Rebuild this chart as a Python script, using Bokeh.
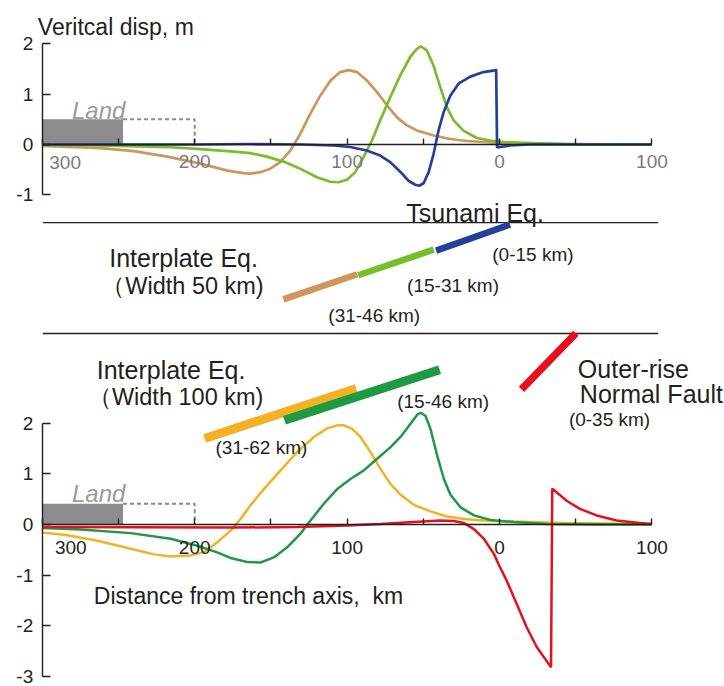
from bokeh.plotting import figure
from bokeh.models import Range1d, LinearAxis, FixedTicker, Label
from bokeh.embed import file_html
from bokeh.resources import INLINE

# ---------------- data (distance km: negative = landward, positive = seaward) ----------------
x_ticks = [-300, -250, -200, -150, -100, -50, 0, 50, 100]
x_tick_labels = {t: ("" if (t % 100 != 0 or t == -300) else str(abs(t))) for t in x_ticks}
top_y_ticks = [-1, 0, 1, 2]
bot_y_ticks = [-3, -2, -1, 0, 1, 2]
y_tick_labels = {t: str(t) for t in bot_y_ticks}

# Top panel: interplate Eq. width 50 km (vertical displacement, m)
tsunami_x = [-300, -200, -163.6, -130.8, -108.9, -98, -87.1, -78.3, -71.7, -65.2, -59.7, -55.3, -52.7,
             -49.8, -46.5, -43.3, -40, -36.7, -32.3, -26.9, -19.2, -10.5, -2.2, -1.6, 0.3, 7, 20, 100]
tsunami_y = [0, 0, 0.01, 0, -0.02, -0.05, -0.12, -0.22, -0.35, -0.54, -0.72, -0.80, -0.82,
             -0.77, -0.55, -0.19, 0.28, 0.64, 0.97, 1.21, 1.35, 1.44, 1.48, -0.05, -0.05, -0.02, 0, 0]

mid50_x = [-300, -261.6, -218, -196, -174.3, -163.6, -152.7, -141.7, -130.8, -119.8, -111.1, -105.6,
           -100.1, -94.7, -89.2, -83.7, -78.3, -71.7, -65.2, -58.6, -54.2, -51.6, -47.7, -43.3, -38.9,
           -34.5, -30.1, -23.5, -14.8, -6.1, 2.7, 20, 50, 100]
mid50_y = [-0.01, -0.02, -0.05, -0.09, -0.14, -0.17, -0.24, -0.34, -0.48, -0.65, -0.74, -0.75,
           -0.70, -0.55, -0.25, 0.08, 0.48, 0.94, 1.37, 1.74, 1.90, 1.95, 1.87, 1.57, 1.14,
           0.74, 0.48, 0.27, 0.13, 0.08, 0.05, 0.03, 0.01, 0]

deep50_x = [-300, -261.6, -239.8, -218, -196.1, -178.6, -168, -163.6, -157, -150.4, -143.9, -137.3,
            -130.7, -124.2, -117.6, -111, -104.5, -99, -93.5, -86.9, -80.4, -73.8, -67.3, -60.7,
            -54.2, -43.3, -32.3, -21.4, -10.5, 0.5, 30, 60, 100]
deep50_y = [-0.03, -0.07, -0.13, -0.24, -0.38, -0.52, -0.57, -0.58, -0.55, -0.48, -0.35, -0.12,
            0.21, 0.61, 0.97, 1.27, 1.44, 1.48, 1.44, 1.27, 1.04, 0.78, 0.54, 0.38,
            0.28, 0.18, 0.11, 0.07, 0.05, 0.03, 0.01, 0, 0]

# Bottom panel: interplate Eq. width 100 km + outer-rise normal fault
deep100_x = [-300, -285.6, -263.8, -242, -226.7, -215.8, -202.7, -194, -185.2, -176.5, -169.9, -163.4,
             -154.6, -143.7, -132.8, -121.8, -113.1, -106.5, -102.1, -96.7, -91.2, -84.6, -78.1,
             -71.5, -65, -56.2, -45.3, -34.3, -23.4, -10.3, 2.8, 20.3, 42.2, 70, 100]
deep100_y = [-0.16, -0.2, -0.32, -0.48, -0.59, -0.63, -0.61, -0.55, -0.35, -0.12, 0.11, 0.38,
             0.70, 1.07, 1.43, 1.73, 1.90, 1.96, 1.96, 1.89, 1.73, 1.43, 1.10,
             0.80, 0.59, 0.39, 0.26, 0.16, 0.11, 0.08, 0.06, 0.05, 0.03, 0.02, 0.01]

shallow100_x = [-300, -274.7, -242, -215.8, -198.3, -185.2, -176.5, -165.6, -156.8, -148.1, -139.3,
                -130.6, -124, -115.3, -106.5, -97.8, -89, -80.3, -71.5, -65, -58.4, -54, -51.8,
                -48.6, -45.3, -40.9, -36.5, -32.2, -25.6, -16.8, -5.9, 9.4, 31.3, 60, 100]
shallow100_y = [-0.07, -0.10, -0.17, -0.28, -0.42, -0.55, -0.66, -0.74, -0.75, -0.65, -0.45,
                -0.18, 0.08, 0.41, 0.70, 0.90, 1.07, 1.30, 1.53, 1.73, 1.99, 2.17, 2.21,
                2.15, 1.89, 1.36, 0.90, 0.59, 0.34, 0.18, 0.09, 0.05, 0.01, 0, 0]

outer_x = [-300, -176.5, -132.8, -100, -78.1, -56.2, -38.7, -30, -23.4, -16.8, -10.3, -3.7, -0.4,
           4.7, 11.3, 17.8, 24.4, 29.8, 33.8, 34.6, 44, 52.7, 63.7, 76.8, 92, 100]
outer_y = [-0.05, -0.06, -0.05, -0.02, 0.01, 0.05, 0.08, 0.07, 0.03, -0.09, -0.28, -0.58, -0.80,
           -1.11, -1.57, -2.03, -2.42, -2.65, -2.82, 0.71, 0.47, 0.31, 0.18, 0.08, 0.03, 0.01]

# Land extent (km) and symbolic heights
land_solid = (-300, -247)
land_dash_end = -200
land_h_top, land_h_bot = 0.5, 0.41

# Fault schematics (distance km, diagram units of each panel)
faults_top = {
    "tsunami": ([-41.6, 6.9], [-2.11, -1.59]),
    "mid":     ([-92.7, -43.2], [-2.60, -2.09]),
    "deep":    ([-141.8, -93.3], [-3.08, -2.58]),
}
faults_bot = {
    "deep":    ([-193.5, -94.0], [1.70, 2.69]),
    "shallow": ([-141.1, -39.3], [2.06, 3.06]),
    "outer":   ([14.4, 50.1], [2.67, 3.78]),
}
separators_x = [-299.6, 104.1]
separators_y = [-1.551, -3.757]

# ---------------- styling ----------------
INK = "#231f20"
C_BLUE, C_LGREEN, C_TAN = "#25409a", "#78bd2a", "#cf955a"
C_YEL, C_DGREEN, C_RED = "#f5b025", "#1e9a43", "#e60f1b"
C_LAND = "#8c8c8c"
FONT = "Liberation Sans"

p = figure(width=724, height=686, output_backend="svg", toolbar_location=None, tools="",
           x_range=Range1d(-327.4, 147.6), y_range=Range1d(-10.775, 2.863),
           x_axis_type=None, y_axis_type=None, min_border=0, outline_line_color=None,
           background_fill_color="white", border_fill_color="white")
p.extra_y_ranges = {"bot": Range1d(-3.201, 10.356)}


def add_axes(rng, yticks, xlab_color, xlab_standoff):
    kw = {} if rng is None else {"y_range_name": rng}
    xa = LinearAxis(fixed_location=0, bounds=(-300, 100), ticker=FixedTicker(ticks=x_ticks),
                    major_label_overrides=x_tick_labels, **kw)
    xa.major_tick_in = 6
    xa.major_tick_out = 0
    xa.minor_tick_line_color = None
    xa.axis_line_color = INK
    xa.axis_line_width = 1.6
    xa.major_tick_line_color = INK
    xa.major_tick_line_width = 1.4
    xa.major_label_text_font = FONT
    xa.major_label_text_font_size = "19px"
    xa.major_label_text_color = xlab_color
    xa.major_label_standoff = xlab_standoff
    p.add_layout(xa, "below")

    ya = LinearAxis(fixed_location=-300, bounds=(min(yticks), max(yticks)),
                    ticker=FixedTicker(ticks=yticks),
                    major_label_overrides={t: y_tick_labels[t] for t in yticks}, **kw)
    ya.major_tick_in = 8
    ya.major_tick_out = 0
    ya.minor_tick_line_color = None
    ya.axis_line_color = INK
    ya.axis_line_width = 1.4
    ya.major_tick_line_color = INK
    ya.major_tick_line_width = 1.4
    ya.major_label_text_font = FONT
    ya.major_label_text_font_size = "19px"
    ya.major_label_text_color = INK
    ya.major_label_standoff = 9
    p.add_layout(ya, "left")


# land boxes
for rng, h in ((None, land_h_top), ("bot", land_h_bot)):
    kw = {} if rng is None else {"y_range_name": rng}
    p.quad(left=[land_solid[0]], right=[land_solid[1]], bottom=[0], top=[h],
           fill_color=C_LAND, line_color=None, **kw)
    p.line([land_solid[1], land_dash_end, land_dash_end], [h, h, 0], line_color=C_LAND,
           line_width=2, line_dash="4 3", **kw)

add_axes(None, top_y_ticks, "#7a7a7a", 10)
add_axes("bot", bot_y_ticks, INK, 16)

# curves top
p.line(deep50_x, deep50_y, line_color=C_TAN, line_width=2.7, line_join="round")
p.line(mid50_x, mid50_y, line_color=C_LGREEN, line_width=2.7, line_join="round")
p.line(tsunami_x, tsunami_y, line_color=C_BLUE, line_width=2.7, line_join="round")

# curves bottom
p.line(deep100_x, deep100_y, line_color=C_YEL, line_width=2.5, y_range_name="bot", line_join="round")
p.line(shallow100_x, shallow100_y, line_color=C_DGREEN, line_width=2.5, y_range_name="bot",
       line_join="round")
p.line(outer_x, outer_y, line_color=C_RED, line_width=2.5, y_range_name="bot")

# separators
for sy in separators_y:
    p.line(separators_x, [sy, sy], line_color=INK, line_width=1.3)

# faults
for key, col in (("deep", C_TAN), ("mid", C_LGREEN), ("tsunami", C_BLUE)):
    fx, fy = faults_top[key]
    p.line(fx, fy, line_color=col, line_width=6.5, line_cap="butt")
for key, col, w in (("deep", C_YEL, 9), ("shallow", C_DGREEN, 9), ("outer", C_RED, 7.5)):
    fx, fy = faults_bot[key]
    p.line(fx, fy, line_color=col, line_width=w, line_cap="butt", y_range_name="bot")


def lab(x, y, text, size, align="center", rng=None, color=INK, style="normal", baseline="alphabetic"):
    kw = {} if rng is None else {"y_range_name": rng}
    p.add_layout(Label(x=x, y=y, text=text, text_font=FONT, text_font_size=size,
                       text_color=color, text_align=align, text_baseline=baseline,
                       text_font_style=style, **kw))


# top panel texts
lab(-302.9, 2.346, "Veritcal disp, m", "23px", align="left")
lab(-263, 0.676, "Land", "24px", color="#9a9a9a", style="italic")
lab(-285, -0.219, "300", "19px", color="#7a7a7a", baseline="top")
lab(-16, -1.352, "Tsunami Eq.", "25px")
lab(-207.3, -2.247, "Interplate Eq.", "25px")
lab(-208, -2.803, "（Width 50 km)", "23.5px")
lab(21.9, -2.193, "(0-15 km)", "19px")
lab(-30.5, -2.803, "(15-31 km)", "19px")
lab(-82.2, -3.40, "(31-46 km)", "19px")

# bottom panel texts
lab(-215.5, 3.057, "Interplate Eq.", "25px", rng="bot")
lab(-212.5, 2.516, "（Width 100 km)", "23.5px", rng="bot")
lab(-37, 2.437, "(15-46 km)", "19px", rng="bot")
lab(-156.2, 1.516, "(31-62 km)", "19px", rng="bot")
lab(51.4, 3.077, "Outer-rise", "25px", align="left", rng="bot")
lab(52.7, 2.583, "Normal Fault", "25px", align="left", rng="bot")
lab(45.5, 2.069, "(0-35 km)", "19px", align="left", rng="bot")
lab(-266.2, -1.417, "Distance from trench axis,\u00a0\u00a0km", "23px", align="left", rng="bot")
lab(-263, 0.607, "Land", "24px", rng="bot", color="#9a9a9a", style="italic")
lab(-281.3, -0.316, "300", "19px", rng="bot", baseline="top")

open("out.html", "w").write(file_html(p, INLINE))
